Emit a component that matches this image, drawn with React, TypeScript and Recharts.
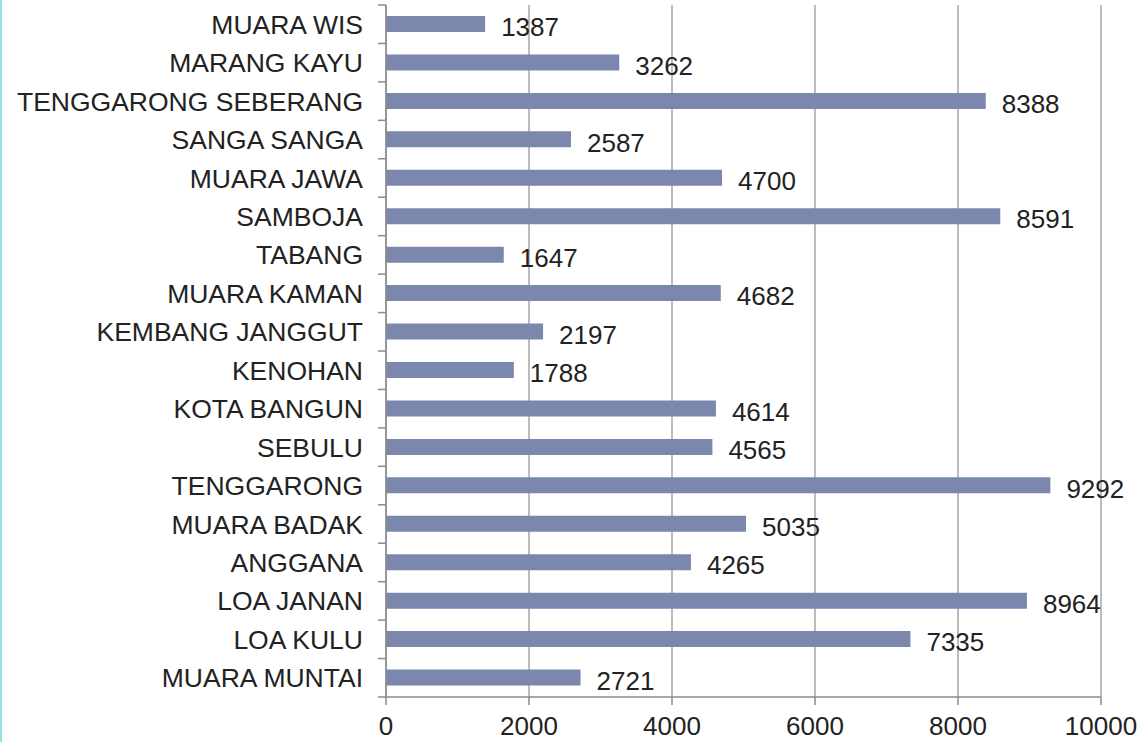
import { BarChart, Bar, XAxis, YAxis, CartesianGrid, LabelList } from "recharts";

const kecamatan = [
  "MUARA WIS",
  "MARANG KAYU",
  "TENGGARONG SEBERANG",
  "SANGA SANGA",
  "MUARA JAWA",
  "SAMBOJA",
  "TABANG",
  "MUARA KAMAN",
  "KEMBANG JANGGUT",
  "KENOHAN",
  "KOTA BANGUN",
  "SEBULU",
  "TENGGARONG",
  "MUARA BADAK",
  "ANGGANA",
  "LOA JANAN",
  "LOA KULU",
  "MUARA MUNTAI",
];

const jumlah = [
  1387, 3262, 8388, 2587, 4700, 8591, 1647, 4682, 2197, 1788, 4614, 4565, 9292, 5035, 4265, 8964, 7335,
  2721,
];

const xTicks = [0, 2000, 4000, 6000, 8000, 10000];

const data = kecamatan.map((name, i) => ({ name, value: jumlah[i] }));

const FONT = "'Liberation Sans', Arial, sans-serif";
const AXIS = "#8c8c8c";

// category label + Excel-style tick marks between categories
function CategoryTick(props: any) {
  const { x, y, payload, index } = props;
  const half = payload?.offset ?? 19.2;
  const axisX = x + 23;
  return (
    <g>
      <line x1={axisX - 8} x2={axisX} y1={y - half} y2={y - half} stroke={AXIS} strokeWidth={1.5} />
      {index === kecamatan.length - 1 && (
        <line x1={axisX - 8} x2={axisX} y1={y + half} y2={y + half} stroke={AXIS} strokeWidth={1.5} />
      )}
      <text x={x} y={y} dy="0.36em" textAnchor="end" fill="#222" fontSize={26.5} fontFamily={FONT}>
        {payload.value}
      </text>
    </g>
  );
}

export default function App() {
  return (
    <div
      style={{
        position: "fixed",
        left: 0,
        top: 0,
        width: 1148,
        height: 742,
        background: "#fff",
        borderLeft: "2px solid #8fe3e3",
        boxSizing: "border-box",
      }}
    >
      <BarChart
        width={1146}
        height={742}
        data={data}
        layout="vertical"
        margin={{ top: 5, right: 47, bottom: 5, left: 0 }}
        barSize={16}
      >
        <CartesianGrid horizontal={false} stroke="#a6a6a6" strokeWidth={1.5} />
        <XAxis
          type="number"
          domain={[0, 10000]}
          ticks={xTicks}
          interval={0}
          height={40}
          stroke={AXIS}
          strokeWidth={1.5}
          tickSize={8}
          tickMargin={12}
          tick={{ fill: "#222", fontSize: 26, fontFamily: FONT }}
        />
        <YAxis
          type="category"
          dataKey="name"
          width={384}
          interval={0}
          stroke={AXIS}
          strokeWidth={1.5}
          tickLine={false}
          tickSize={8}
          tickMargin={15}
          tick={<CategoryTick />}
        />
        <Bar dataKey="value" fill="#7b87ad" isAnimationActive={false}>
          <LabelList
            dataKey="value"
            position="right"
            offset={16}
            fill="#222"
            fontSize={26}
            fontFamily={FONT}
            dy={3}
          />
        </Bar>
      </BarChart>
    </div>
  );
}
